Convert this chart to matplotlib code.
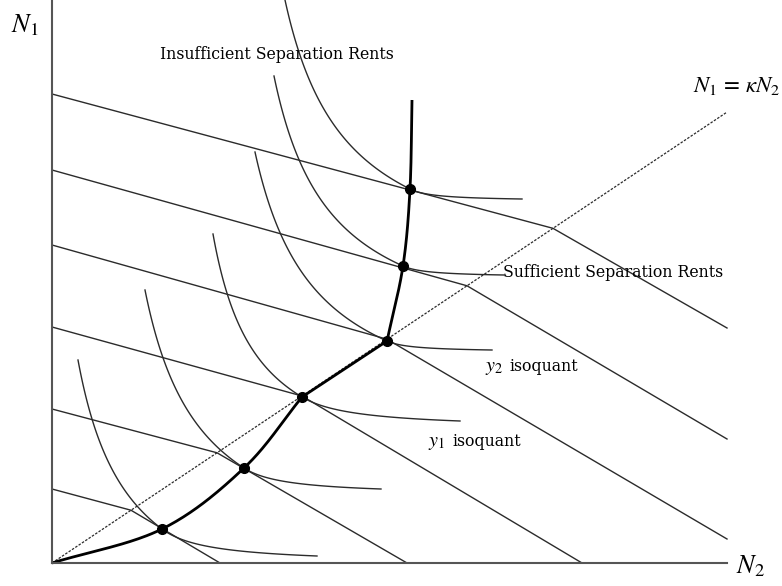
import numpy as np
import matplotlib.pyplot as plt

plt.rcParams['font.family'] = ['DejaVu Serif']
plt.rcParams['mathtext.fontset'] = 'stix'

# ray N1 = kappa * N2
kappa = 0.668
ray_end_x = 675

# isocost lines: N1 intercept, kink on the ray (N2), end point
cost_c = [74, 154, 236, 318, 393, 469]
kink_x = [79, 165, 250, 335, 415, 501]
end_x = [168, 355, 530, 675, 675, 675]
end_y = [0, 0, 0, 24, 124, 235]

# tangency points
dot_x = [110, 192, 250, 335, 351, 358]
dot_y = [34, 95, 166, 222, 297, 374]

# isoquants: slope where they cross the dot, upper end, right end
iso_slope = [0.75, 0.65, 0.6, 0.45, 0.45, 0.5]
top_x = [26, 93, 161, 203, 222, 233]
top_y = [203, 273, 329, 411, 487, 563]
right_x = [265, 329, 408, 440, 452, 470]
right_y = [7, 74, 142, 213, 288, 364]

# top of the expansion path
path_top_x = 360
path_top_y = 463

line_col = '#2b2b2b'


def hyper(xd, yd, s, x1, y1):
    # (x-p)(y-q)=k through (xd,yd) with slope -s, and through (x1,y1)
    dx, dy = x1 - xd, y1 - yd
    u = -dx * dy / (s * dx + dy)
    return xd - u, yd - s * u, s * u * u


def smooth(xs, ys, n=40):
    pts = np.column_stack([xs, ys]).astype(float)
    ext = np.vstack([2 * pts[0] - pts[1], pts, 2 * pts[-1] - pts[-2]])
    out = []
    t = np.linspace(0, 1, n)[:, None]
    for i in range(1, len(ext) - 2):
        p0, p1, p2, p3 = ext[i - 1:i + 3]
        seg = 0.5 * (2 * p1 + (-p0 + p2) * t + (2 * p0 - 5 * p1 + 4 * p2 - p3) * t ** 2
                     + (-p0 + 3 * p1 - 3 * p2 + p3) * t ** 3)
        out.append(seg)
    return np.vstack(out)


fig = plt.figure(figsize=(7.82, 5.86), dpi=100)
ax = fig.add_axes([0, 0, 1, 1])
ax.set_xlim(-52, 730)
ax.set_ylim(-23, 563)

for side in ['top', 'right']:
    ax.spines[side].set_visible(False)
ax.spines['left'].set_position(('data', 0))
ax.spines['bottom'].set_position(('data', 0))
ax.spines['left'].set_bounds(0, 563)
ax.spines['bottom'].set_bounds(0, 675)
for side in ['left', 'bottom']:
    ax.spines[side].set_color('#555555')
    ax.spines[side].set_linewidth(1.5)
ax.set_xticks([])
ax.set_yticks([])

# ray
ax.plot([0, ray_end_x], [0, kappa * ray_end_x], color=line_col, lw=0.9,
        linestyle=(0, (2, 1.2)))

# kinked isocost lines
for c, kx, ex, ey in zip(cost_c, kink_x, end_x, end_y):
    ax.plot([0, kx, ex], [c, kappa * kx, ey], color=line_col, lw=1.0)

# isoquants
for i in range(len(dot_x)):
    xd, yd, s = dot_x[i], dot_y[i], iso_slope[i]
    p, q, k = hyper(xd, yd, s, top_x[i], top_y[i])
    ys = np.linspace(yd, top_y[i], 120)
    ax.plot(p + k / (ys - q), ys, color=line_col, lw=1.0)
    p, q, k = hyper(xd, yd, s, right_x[i], right_y[i])
    xs = np.linspace(xd, right_x[i], 120)
    ax.plot(xs, q + k / (xs - p), color=line_col, lw=1.0)

# expansion path
low = smooth([0] + dot_x[:3], [0] + dot_y[:3])
high = smooth(dot_x[3:] + [path_top_x], dot_y[3:] + [path_top_y])
path = np.vstack([low, high])
ax.plot(path[:, 0], path[:, 1], color='black', lw=2.0, solid_capstyle='butt')
ax.plot(dot_x, dot_y, 'o', color='black', markersize=7)

# labels
ax.text(108, 504, 'Insufficient Separation Rents', fontsize=11.3, va='baseline')
ax.text(451, 286, 'Sufficient Separation Rents', fontsize=11.3, va='baseline')
ax.text(433, 192, '$y_2$', fontsize=14.5, va='baseline')
ax.text(457, 192, 'isoquant', fontsize=11.3, va='baseline')
ax.text(376, 117, '$y_1$', fontsize=14.5, va='baseline')
ax.text(400, 117, 'isoquant', fontsize=11.3, va='baseline')
ax.text(641, 471, r'$N_1\,=\,\kappa N_2$', fontsize=16.5, va='baseline')
ax.text(-41, 531, '$N_1$', fontsize=19, va='baseline')
ax.text(684, -10, '$N_2$', fontsize=19, va='baseline')

plt.savefig('out.png', dpi=100)
